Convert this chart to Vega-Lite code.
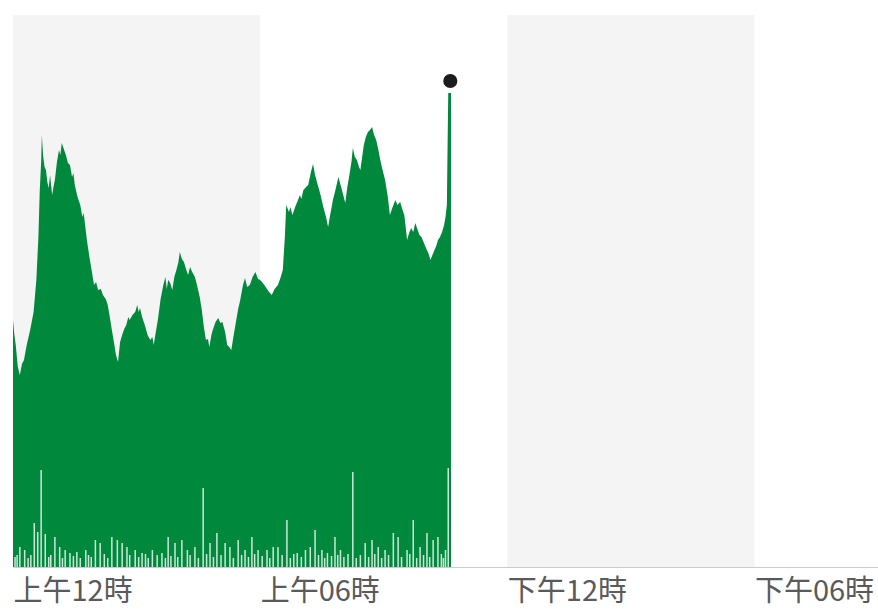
{
  "$schema": "https://vega.github.io/schema/vega-lite/v6.json",
  "autosize": "none",
  "width": 865,
  "height": 552,
  "padding": {"left": 13, "top": 15, "right": 0, "bottom": 42},
  "background": "white",
  "config": {"view": {"stroke": null}},
  "datasets": {
    "bands": [
      {"start": 0, "end": 360},
      {"start": 720, "end": 1080}
    ],
    "series": [
      {"minute": 0, "v": 247}, {"minute": 2, "v": 232}, {"minute": 4, "v": 222}, {"minute": 7, "v": 200},
      {"minute": 10, "v": 192}, {"minute": 13, "v": 203}, {"minute": 16, "v": 207}, {"minute": 20, "v": 222},
      {"minute": 25, "v": 237}, {"minute": 30, "v": 255}, {"minute": 34, "v": 287}, {"minute": 37, "v": 330},
      {"minute": 39, "v": 377}, {"minute": 41, "v": 405}, {"minute": 42, "v": 432}, {"minute": 44, "v": 410},
      {"minute": 46, "v": 400}, {"minute": 48, "v": 397}, {"minute": 50, "v": 385}, {"minute": 52, "v": 379},
      {"minute": 54, "v": 392}, {"minute": 57, "v": 372}, {"minute": 59, "v": 380}, {"minute": 61, "v": 387},
      {"minute": 64, "v": 405}, {"minute": 67, "v": 417}, {"minute": 69, "v": 412}, {"minute": 71, "v": 424},
      {"minute": 74, "v": 418}, {"minute": 77, "v": 412}, {"minute": 80, "v": 404}, {"minute": 83, "v": 402},
      {"minute": 86, "v": 390}, {"minute": 88, "v": 394}, {"minute": 90, "v": 382}, {"minute": 94, "v": 370},
      {"minute": 98, "v": 362}, {"minute": 101, "v": 350}, {"minute": 103, "v": 354}, {"minute": 105, "v": 342},
      {"minute": 108, "v": 325}, {"minute": 112, "v": 307}, {"minute": 115, "v": 295}, {"minute": 118, "v": 282},
      {"minute": 121, "v": 285}, {"minute": 124, "v": 277}, {"minute": 128, "v": 278}, {"minute": 131, "v": 272},
      {"minute": 135, "v": 268}, {"minute": 138, "v": 262}, {"minute": 141, "v": 250}, {"minute": 144, "v": 237},
      {"minute": 147, "v": 225}, {"minute": 150, "v": 212}, {"minute": 153, "v": 205}, {"minute": 156, "v": 225},
      {"minute": 159, "v": 232}, {"minute": 162, "v": 238}, {"minute": 165, "v": 242}, {"minute": 168, "v": 250},
      {"minute": 170, "v": 247}, {"minute": 174, "v": 252}, {"minute": 178, "v": 255}, {"minute": 181, "v": 262},
      {"minute": 183, "v": 255}, {"minute": 185, "v": 259}, {"minute": 188, "v": 250}, {"minute": 192, "v": 242},
      {"minute": 196, "v": 232}, {"minute": 200, "v": 227}, {"minute": 203, "v": 230}, {"minute": 205, "v": 222},
      {"minute": 208, "v": 235}, {"minute": 211, "v": 247}, {"minute": 215, "v": 268}, {"minute": 219, "v": 282},
      {"minute": 222, "v": 290}, {"minute": 224, "v": 278}, {"minute": 226, "v": 287}, {"minute": 229, "v": 284},
      {"minute": 232, "v": 277}, {"minute": 235, "v": 290}, {"minute": 238, "v": 297}, {"minute": 241, "v": 305},
      {"minute": 243, "v": 315}, {"minute": 246, "v": 308}, {"minute": 249, "v": 305}, {"minute": 252, "v": 298},
      {"minute": 255, "v": 292}, {"minute": 258, "v": 300}, {"minute": 261, "v": 295}, {"minute": 265, "v": 290},
      {"minute": 268, "v": 282}, {"minute": 272, "v": 270}, {"minute": 275, "v": 257}, {"minute": 278, "v": 240},
      {"minute": 281, "v": 227}, {"minute": 284, "v": 228}, {"minute": 286, "v": 220}, {"minute": 289, "v": 232},
      {"minute": 291, "v": 237}, {"minute": 295, "v": 245}, {"minute": 299, "v": 249}, {"minute": 302, "v": 244},
      {"minute": 305, "v": 245}, {"minute": 309, "v": 235}, {"minute": 312, "v": 222}, {"minute": 315, "v": 220},
      {"minute": 318, "v": 217}, {"minute": 321, "v": 230}, {"minute": 324, "v": 242}, {"minute": 328, "v": 258},
      {"minute": 331, "v": 267}, {"minute": 335, "v": 282}, {"minute": 338, "v": 289}, {"minute": 341, "v": 280},
      {"minute": 345, "v": 282}, {"minute": 349, "v": 290}, {"minute": 353, "v": 295}, {"minute": 357, "v": 288},
      {"minute": 360, "v": 287}, {"minute": 365, "v": 283}, {"minute": 369, "v": 279}, {"minute": 373, "v": 275},
      {"minute": 377, "v": 272}, {"minute": 381, "v": 278}, {"minute": 386, "v": 282}, {"minute": 390, "v": 290},
      {"minute": 393, "v": 297}, {"minute": 396, "v": 330}, {"minute": 398, "v": 362}, {"minute": 402, "v": 355},
      {"minute": 404, "v": 360}, {"minute": 407, "v": 352}, {"minute": 411, "v": 360}, {"minute": 414, "v": 365},
      {"minute": 418, "v": 372}, {"minute": 420, "v": 368}, {"minute": 423, "v": 377}, {"minute": 427, "v": 380},
      {"minute": 430, "v": 382}, {"minute": 434, "v": 395}, {"minute": 437, "v": 403}, {"minute": 440, "v": 392},
      {"minute": 444, "v": 382}, {"minute": 448, "v": 372}, {"minute": 452, "v": 360}, {"minute": 456, "v": 350},
      {"minute": 459, "v": 340}, {"minute": 462, "v": 352}, {"minute": 466, "v": 367}, {"minute": 470, "v": 378},
      {"minute": 474, "v": 390}, {"minute": 478, "v": 380}, {"minute": 481, "v": 372}, {"minute": 484, "v": 364},
      {"minute": 487, "v": 380}, {"minute": 490, "v": 392}, {"minute": 493, "v": 405}, {"minute": 495, "v": 419},
      {"minute": 498, "v": 410}, {"minute": 501, "v": 407}, {"minute": 504, "v": 400}, {"minute": 506, "v": 397},
      {"minute": 509, "v": 412}, {"minute": 511, "v": 422}, {"minute": 514, "v": 430}, {"minute": 517, "v": 435},
      {"minute": 520, "v": 437}, {"minute": 523, "v": 440}, {"minute": 526, "v": 432}, {"minute": 529, "v": 427},
      {"minute": 532, "v": 418}, {"minute": 535, "v": 407}, {"minute": 538, "v": 398}, {"minute": 542, "v": 387},
      {"minute": 546, "v": 370}, {"minute": 549, "v": 352}, {"minute": 553, "v": 360}, {"minute": 557, "v": 367},
      {"minute": 560, "v": 362}, {"minute": 564, "v": 365}, {"minute": 567, "v": 358}, {"minute": 570, "v": 352},
      {"minute": 572, "v": 340}, {"minute": 574, "v": 327}, {"minute": 577, "v": 334}, {"minute": 580, "v": 339},
      {"minute": 583, "v": 335}, {"minute": 586, "v": 344}, {"minute": 589, "v": 338}, {"minute": 592, "v": 332},
      {"minute": 595, "v": 330}, {"minute": 598, "v": 325}, {"minute": 601, "v": 320}, {"minute": 603, "v": 317},
      {"minute": 606, "v": 312}, {"minute": 608, "v": 307}, {"minute": 611, "v": 312}, {"minute": 614, "v": 317},
      {"minute": 617, "v": 322}, {"minute": 619, "v": 327}, {"minute": 622, "v": 330}, {"minute": 625, "v": 335},
      {"minute": 628, "v": 342}, {"minute": 630, "v": 350}, {"minute": 632, "v": 362}, {"minute": 633, "v": 420},
      {"minute": 634, "v": 474}, {"minute": 637, "v": 474}, {"minute": 638, "v": 474}
    ],
    "dips": [
      {"minute": 3, "v": 10}, {"minute": 6, "v": 12}, {"minute": 10, "v": 20}, {"minute": 17, "v": 17},
      {"minute": 22, "v": 9}, {"minute": 26, "v": 12}, {"minute": 31, "v": 44}, {"minute": 36, "v": 35},
      {"minute": 41, "v": 97}, {"minute": 47, "v": 33}, {"minute": 52, "v": 10}, {"minute": 55, "v": 12},
      {"minute": 61, "v": 30}, {"minute": 68, "v": 20}, {"minute": 72, "v": 9}, {"minute": 76, "v": 17},
      {"minute": 83, "v": 14}, {"minute": 88, "v": 11}, {"minute": 93, "v": 15}, {"minute": 98, "v": 9},
      {"minute": 106, "v": 17}, {"minute": 110, "v": 12}, {"minute": 114, "v": 10}, {"minute": 120, "v": 27},
      {"minute": 127, "v": 24}, {"minute": 133, "v": 13}, {"minute": 138, "v": 9}, {"minute": 144, "v": 30},
      {"minute": 152, "v": 27}, {"minute": 159, "v": 24}, {"minute": 166, "v": 20}, {"minute": 170, "v": 12},
      {"minute": 178, "v": 17}, {"minute": 183, "v": 10}, {"minute": 188, "v": 14}, {"minute": 193, "v": 13},
      {"minute": 197, "v": 9}, {"minute": 203, "v": 17}, {"minute": 210, "v": 12}, {"minute": 217, "v": 14},
      {"minute": 222, "v": 9}, {"minute": 226, "v": 30}, {"minute": 230, "v": 11}, {"minute": 236, "v": 24},
      {"minute": 240, "v": 10}, {"minute": 246, "v": 27}, {"minute": 254, "v": 17}, {"minute": 258, "v": 12},
      {"minute": 265, "v": 20}, {"minute": 270, "v": 9}, {"minute": 277, "v": 79}, {"minute": 282, "v": 13},
      {"minute": 287, "v": 24}, {"minute": 292, "v": 10}, {"minute": 297, "v": 34}, {"minute": 303, "v": 12},
      {"minute": 309, "v": 24}, {"minute": 316, "v": 20}, {"minute": 321, "v": 9}, {"minute": 328, "v": 27},
      {"minute": 333, "v": 12}, {"minute": 338, "v": 17}, {"minute": 343, "v": 10}, {"minute": 348, "v": 30},
      {"minute": 352, "v": 13}, {"minute": 357, "v": 17}, {"minute": 363, "v": 11}, {"minute": 370, "v": 17},
      {"minute": 374, "v": 9}, {"minute": 379, "v": 20}, {"minute": 386, "v": 20}, {"minute": 392, "v": 12},
      {"minute": 399, "v": 47}, {"minute": 404, "v": 9}, {"minute": 409, "v": 13}, {"minute": 414, "v": 14},
      {"minute": 420, "v": 10}, {"minute": 426, "v": 17}, {"minute": 433, "v": 20}, {"minute": 440, "v": 37},
      {"minute": 445, "v": 12}, {"minute": 450, "v": 17}, {"minute": 454, "v": 9}, {"minute": 458, "v": 14},
      {"minute": 464, "v": 11}, {"minute": 469, "v": 30}, {"minute": 473, "v": 12}, {"minute": 477, "v": 17},
      {"minute": 482, "v": 10}, {"minute": 488, "v": 13}, {"minute": 495, "v": 95}, {"minute": 500, "v": 9},
      {"minute": 506, "v": 12}, {"minute": 513, "v": 24}, {"minute": 518, "v": 10}, {"minute": 523, "v": 27},
      {"minute": 527, "v": 13}, {"minute": 532, "v": 20}, {"minute": 537, "v": 9}, {"minute": 542, "v": 17},
      {"minute": 547, "v": 12}, {"minute": 554, "v": 34}, {"minute": 561, "v": 30}, {"minute": 566, "v": 10},
      {"minute": 574, "v": 17}, {"minute": 578, "v": 13}, {"minute": 583, "v": 47}, {"minute": 588, "v": 9},
      {"minute": 593, "v": 20}, {"minute": 598, "v": 12}, {"minute": 603, "v": 34}, {"minute": 607, "v": 10},
      {"minute": 612, "v": 27}, {"minute": 619, "v": 30}, {"minute": 624, "v": 13}, {"minute": 627, "v": 9},
      {"minute": 630, "v": 17}, {"minute": 634, "v": 99}
    ],
    "last": [
      {"minute": 637, "v": 486}
    ]
  },
  "layer": [
    {
      "data": {"name": "bands"},
      "mark": {"type": "rect", "color": "#f4f4f4"},
      "encoding": {
        "x": {
          "field": "start",
          "type": "quantitative",
          "scale": {"domain": [0, 1260], "nice": false, "zero": false},
          "axis": {
            "title": null,
            "grid": false,
            "ticks": false,
            "domainColor": "#cccccc",
            "domainWidth": 1,
            "values": [0, 360, 720, 1080],
            "labelExpr": "datum.value == 0 ? '上午12時' : datum.value == 360 ? '上午06時' : datum.value == 720 ? '下午12時' : '下午06時'",
            "labelAlign": "left",
            "labelBaseline": "top",
            "labelPadding": 10,
            "labelFont": "Noto Sans CJK TC",
            "labelFontSize": 29,
            "labelColor": "#5a5a5a",
            "labelFlush": false,
            "labelOverlap": false,
            "labelBound": false
          }
        },
        "x2": {"field": "end"}
      }
    },
    {
      "data": {"name": "series"},
      "mark": {"type": "area", "color": "#00883d", "interpolate": "linear"},
      "encoding": {
        "x": {"field": "minute", "type": "quantitative"},
        "y": {
          "field": "v",
          "type": "quantitative",
          "scale": {"domain": [0, 552], "nice": false, "zero": true},
          "axis": null
        }
      }
    },
    {
      "data": {"name": "dips"},
      "mark": {"type": "rule", "color": "#eef9f1", "strokeWidth": 1.5, "opacity": 0.85},
      "encoding": {
        "x": {"field": "minute", "type": "quantitative"},
        "y": {"field": "v", "type": "quantitative"},
        "y2": {"datum": 0}
      }
    },
    {
      "data": {"name": "last"},
      "mark": {"type": "point", "filled": true, "color": "#1c1c1c", "size": 200, "opacity": 1},
      "encoding": {
        "x": {"field": "minute", "type": "quantitative"},
        "y": {"field": "v", "type": "quantitative"}
      }
    }
  ]
}
